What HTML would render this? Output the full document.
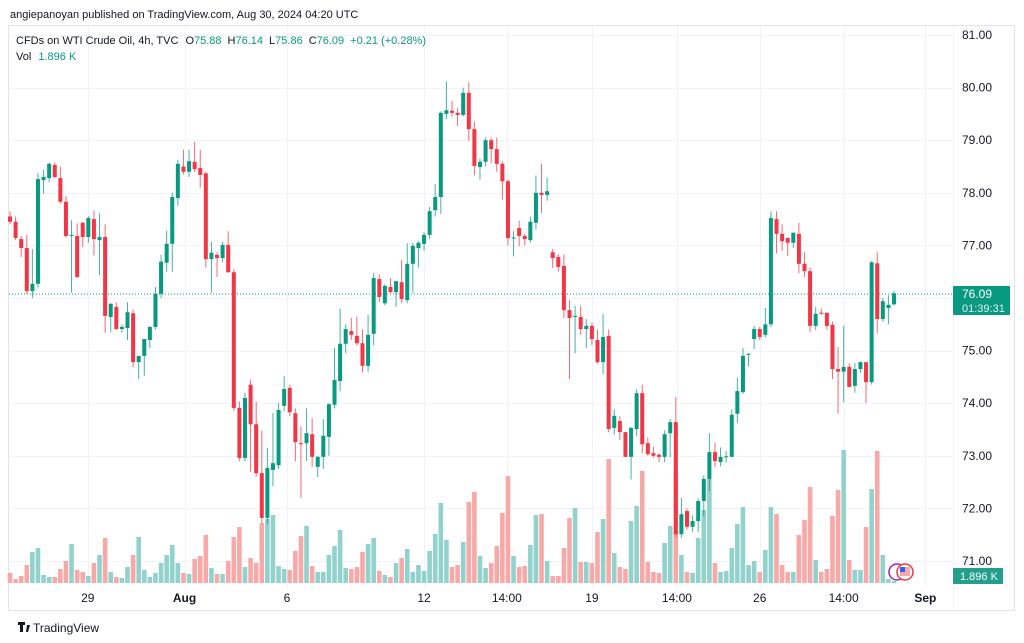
<!DOCTYPE html>
<html><head><meta charset="utf-8"><style>
html,body{margin:0;padding:0;background:#fff;}
svg{display:block;font-family:"Liberation Sans",sans-serif;}
</style></head><body>
<svg id="chart" width="1024" height="643" viewBox="0 0 1024 643">
<rect x="0" y="0" width="1024" height="643" fill="#fff"/>
<text x="10" y="18" font-size="11" fill="#131722">angiepanoyan published on TradingView.com, Aug 30, 2024 04:20 UTC</text>
<rect x="8.5" y="25.5" width="1006" height="585" fill="none" stroke="#e0e3eb"/>
<g id="grid"></g>
<line x1="953.5" y1="26" x2="953.5" y2="610" stroke="#f0f3fa"/>
<line x1="9" y1="294" x2="953" y2="294" stroke="#089981" stroke-dasharray="1,2"/>
<g id="vols"></g>
<g id="candles"></g>
<g id="yaxis"></g>
<g id="xaxis"></g>
<text x="16" y="44" font-size="11" fill="#131722">CFDs on WTI Crude Oil, 4h, TVC <tspan dx="4">O</tspan><tspan fill="#089981">75.88</tspan><tspan dx="6">H</tspan><tspan fill="#089981">76.14</tspan><tspan dx="6">L</tspan><tspan fill="#089981">75.86</tspan><tspan dx="6">C</tspan><tspan fill="#089981">76.09</tspan><tspan dx="6" fill="#089981">+0.21 (+0.28%)</tspan></text>
<text x="16" y="60" font-size="11" fill="#131722">Vol <tspan dx="4" fill="#089981">1.896 K</tspan></text>
<rect x="953" y="286" width="57" height="29" rx="1" fill="#089981"/>
<text x="962" y="298" font-size="12" fill="#fff">76.09</text>
<text x="962" y="312" font-size="11" fill="#e0f2ef">01:39:31</text>
<rect x="953" y="568" width="50" height="16" rx="1" fill="#22a08c"/>
<text x="960" y="580" font-size="11" fill="#fff">1.896 K</text>
<circle cx="897" cy="572" r="8" fill="#fff" stroke="#9c27b0" stroke-width="1.5"/>
<circle cx="905" cy="572" r="8" fill="#fff" stroke="#f23645" stroke-width="1.5"/>
<rect x="900" y="567" width="10" height="9" fill="#f7a9a7"/><rect x="900" y="567" width="5" height="5" fill="#2962ff"/>
<g>
<path d="M18 622h7v3h-2v7h-3v-7h-2z M27 625l3 0 -2 7h-2z" fill="#131722"/>
<text x="33" y="632" font-size="12" fill="#131722">TradingView</text>
</g>
</svg>
<script>
const opens=[77.55,77.45,77.12,76.95,76.13,76.27,78.24,78.28,78.53,78.28,77.83,77.18,77.18,77.43,77.16,77.5,77.1,77.16,75.64,75.83,75.41,75.43,75.71,74.78,74.9,75.2,75.45,76.08,76.67,77.03,77.9,78.5,78.4,78.59,78.47,78.37,76.74,76.82,76.76,77.01,76.49,73.91,72.96,74.35,73.6,72.67,71.82,72.73,72.82,73.95,74.29,73.81,73.24,73.24,73.41,72.79,72.98,73.36,73.97,74.42,75.13,75.37,75.28,75.14,74.71,75.32,76.36,75.9,76.21,76.11,76.3,75.96,76.65,76.95,77.03,77.2,77.67,77.92,79.5,79.56,79.52,79.48,79.9,79.21,78.49,78.59,79.0,78.83,78.55,78.22,77.14,77.33,77.18,77.1,77.43,78.0,77.96,76.87,76.78,76.61,75.77,75.64,75.64,75.41,75.47,75.2,74.78,75.28,73.53,73.66,73.45,72.98,73.51,74.19,73.24,73.05,73.02,72.98,73.43,73.64,71.51,71.95,71.65,71.76,72.14,72.56,73.07,72.88,72.98,72.98,73.8,74.21,74.92,75.22,75.41,75.3,75.5,77.5,77.22,77.14,77.05,77.22,76.65,76.51,75.47,75.72,75.72,75.49,74.65,74.6,74.69,74.33,74.65,74.78,74.4,76.66,75.6,75.81,75.88];
const highs=[77.65,77.55,77.18,77.2,76.93,78.38,78.44,78.58,78.58,78.5,77.94,77.48,77.42,77.45,77.56,77.66,77.61,77.4,75.9,75.92,75.5,75.92,75.78,74.9,75.22,75.47,76.21,76.82,77.28,78.0,78.63,78.82,78.82,78.97,78.82,78.4,77.07,76.87,77.07,77.27,76.55,74.03,74.2,74.45,74.03,73.48,73.15,73.81,74.0,74.52,74.35,73.9,73.56,73.9,73.72,73.0,73.7,74.0,75.05,75.8,75.5,75.62,75.65,75.4,75.68,76.48,76.45,76.26,76.38,76.32,76.72,77.04,77.05,77.08,77.25,77.73,78.17,79.55,80.12,79.75,79.62,80.0,80.1,79.35,78.65,79.05,79.05,79.05,78.6,78.25,77.27,77.47,77.22,77.55,78.33,78.55,78.29,76.93,76.83,76.83,75.96,75.85,75.85,75.6,75.53,75.4,75.7,75.4,73.88,73.75,73.45,73.55,74.27,74.35,73.35,73.17,73.05,73.48,73.7,74.12,72.2,72.0,71.87,72.19,72.63,73.43,73.25,73.16,73.09,73.88,74.49,75.05,74.95,75.47,75.45,75.81,77.65,77.65,77.4,77.15,77.25,77.43,76.87,76.58,75.83,75.8,75.72,75.55,75.07,75.47,74.76,74.76,74.79,74.78,76.7,76.88,76.0,76.05,76.14];
const lows=[77.4,77.1,76.78,76.08,76.0,76.2,77.98,78.2,78.28,77.8,77.15,76.1,76.38,76.97,77.05,76.81,76.43,75.34,75.35,75.4,75.34,75.2,74.68,74.46,74.52,75.05,75.4,76.0,76.5,76.5,77.75,78.35,78.3,78.4,78.1,76.58,76.1,76.4,76.68,76.48,73.85,72.9,72.9,72.7,72.6,71.72,71.7,72.42,72.75,73.85,73.75,72.9,72.2,72.9,72.79,72.6,72.75,73.0,73.9,74.23,74.95,75.2,75.1,74.58,74.6,75.1,75.92,75.86,76.1,75.83,75.9,75.9,76.1,76.58,76.9,77.12,77.55,77.6,79.4,79.45,79.27,79.45,78.99,78.33,78.25,78.5,78.56,78.4,77.87,77.0,76.79,76.98,77.0,77.05,77.3,77.62,77.85,76.57,76.5,75.62,74.46,74.95,75.3,75.05,75.1,74.75,74.55,73.45,73.4,73.3,72.98,72.55,73.37,73.05,73.0,72.97,72.88,72.88,72.97,71.45,71.44,71.6,71.55,71.55,71.85,72.33,72.78,72.8,72.87,72.97,73.62,74.18,74.7,75.03,75.2,75.25,75.45,76.85,76.9,76.8,76.95,76.47,76.4,75.35,75.39,75.68,75.4,74.46,73.8,74.02,74.3,74.2,74.58,74.0,74.35,75.33,75.55,75.5,75.86];
const closes=[77.45,77.14,76.95,76.13,76.27,78.26,78.3,78.55,78.3,77.83,77.18,77.2,76.4,77.16,77.52,77.12,77.16,75.66,75.89,75.41,75.45,75.73,74.78,74.9,75.22,75.45,76.08,76.69,77.03,77.92,78.55,78.4,78.6,78.45,78.34,76.74,76.86,76.76,77.01,76.49,73.91,72.96,74.1,73.6,72.67,71.82,72.77,72.86,73.87,74.27,73.83,73.26,73.22,73.43,72.98,72.98,73.38,73.98,74.44,75.13,75.41,75.3,75.14,74.71,75.3,76.38,76.02,76.23,76.11,76.32,75.98,76.65,76.99,77.05,77.2,77.65,77.92,79.52,79.57,79.52,79.48,79.9,79.21,78.51,78.59,79.0,78.83,78.55,78.22,77.14,77.15,77.18,77.12,77.45,78.0,77.96,78.03,76.76,76.59,75.77,75.62,75.66,75.41,75.47,75.22,74.78,75.26,73.51,73.76,73.45,72.98,73.53,74.19,73.22,73.03,73.0,72.98,73.41,73.64,71.51,71.89,71.65,71.76,72.14,72.56,73.07,72.9,72.98,72.99,73.78,74.23,74.9,74.94,75.41,75.26,75.5,77.52,77.22,77.08,77.05,77.24,76.65,76.51,75.47,75.7,75.7,75.47,74.65,74.6,74.69,74.31,74.65,74.78,74.4,76.68,75.6,75.94,75.87,76.09];
const volumes=[10,4,7,18,31,35,8,6,6,14,22,39,13,11,7,20,28,45,11,6,5,16,28,46,13,6,10,20,28,38,20,10,9,24,27,48,15,9,9,22,46,56,16,25,20,60,64,68,17,14,13,32,47,57,17,11,11,28,37,53,15,14,16,31,39,45,12,8,6,20,25,34,11,18,12,32,49,80,43,16,18,41,81,91,27,15,20,37,70,107,27,16,17,38,68,69,22,7,7,35,65,75,21,21,20,51,64,124,30,16,14,62,77,112,21,11,10,40,57,110,28,11,10,45,73,104,20,11,12,35,59,76,18,22,11,33,76,69,18,11,11,48,63,96,23,11,14,67,93,133,23,13,13,56,94,132,28,4,2];
const priceTicks=[81,80,79,78,77,76,75,74,73,72,71];
const timeLabels=["29","Aug","6","12","14:00","19","14:00","26","14:00","Sep"];
const timeLabelIndex=[13.9,31.2,49.5,74,88.8,104,119.2,134,149,163.6];

const NS="http://www.w3.org/2000/svg";
const X0=10, STEP=5.595, Y81=35, PPU=52.6, VBASE=583, VSCALE=1;
function xOf(i){return X0+i*STEP;}
function yOf(p){return Y81+(81-p)*PPU;}
function vh(v){return v*VSCALE;}
function mk(tag,attrs,parent){const e=document.createElementNS(NS,tag);for(const k in attrs)e.setAttribute(k,attrs[k]);parent.appendChild(e);return e;}

const grid=document.getElementById('grid');
priceTicks.forEach(p=>{
  const l=mk('line',{x1:9,x2:953,y1:Math.round(yOf(p))+0.5,y2:Math.round(yOf(p))+0.5,stroke:'#f0f3fa'},grid);
  
  
});
timeLabelIndex.forEach(i=>{
  const x=Math.round(xOf(i))+0.5;
  const l=mk('line',{x1:x,x2:x,y1:26,y2:588,stroke:'#f0f3fa'},grid);
  
  
});

const vg=document.getElementById('vols');
volumes.forEach((v,i)=>{
  const up=closes[i]>=opens[i];
  const h=vh(v);
  const r=mk('rect',{x:xOf(i)-2.3,y:VBASE-h,width:4.6,height:h,fill:up?'#92d2cc':'#f7a9a7'},vg);
  
  
});

const cg=document.getElementById('candles');
opens.forEach((o,i)=>{
  const c=closes[i], up=c>=o, col=up?'#089981':'#f23645';
  const x=xOf(i);
  const g=mk('g',{},cg);
  
  
  mk('line',{x1:x,x2:x,y1:yOf(highs[i]),y2:yOf(lows[i]),stroke:col,'stroke-width':1,opacity:0.75},g);
  const yt=yOf(Math.max(o,c)), yb=yOf(Math.min(o,c));
  mk('rect',{x:x-2,y:yt,width:4,height:Math.max(1,yb-yt),fill:col},g);
});

const ya=document.getElementById('yaxis');
priceTicks.forEach(p=>{
  const t=mk('text',{x:962,y:yOf(p)+4,'font-size':12,fill:'#131722'},ya);
  t.textContent=p.toFixed(2);
  
  
});
const xa=document.getElementById('xaxis');
timeLabels.forEach((s,k)=>{
  const bold=(s==='Aug'||s==='Sep');
  const t=mk('text',{x:xOf(timeLabelIndex[k]),y:602,'font-size':12,fill:'#131722','text-anchor':'middle','font-weight':bold?'bold':'normal'},xa);
  t.textContent=s;
  
  
});
</script>
</body></html>
